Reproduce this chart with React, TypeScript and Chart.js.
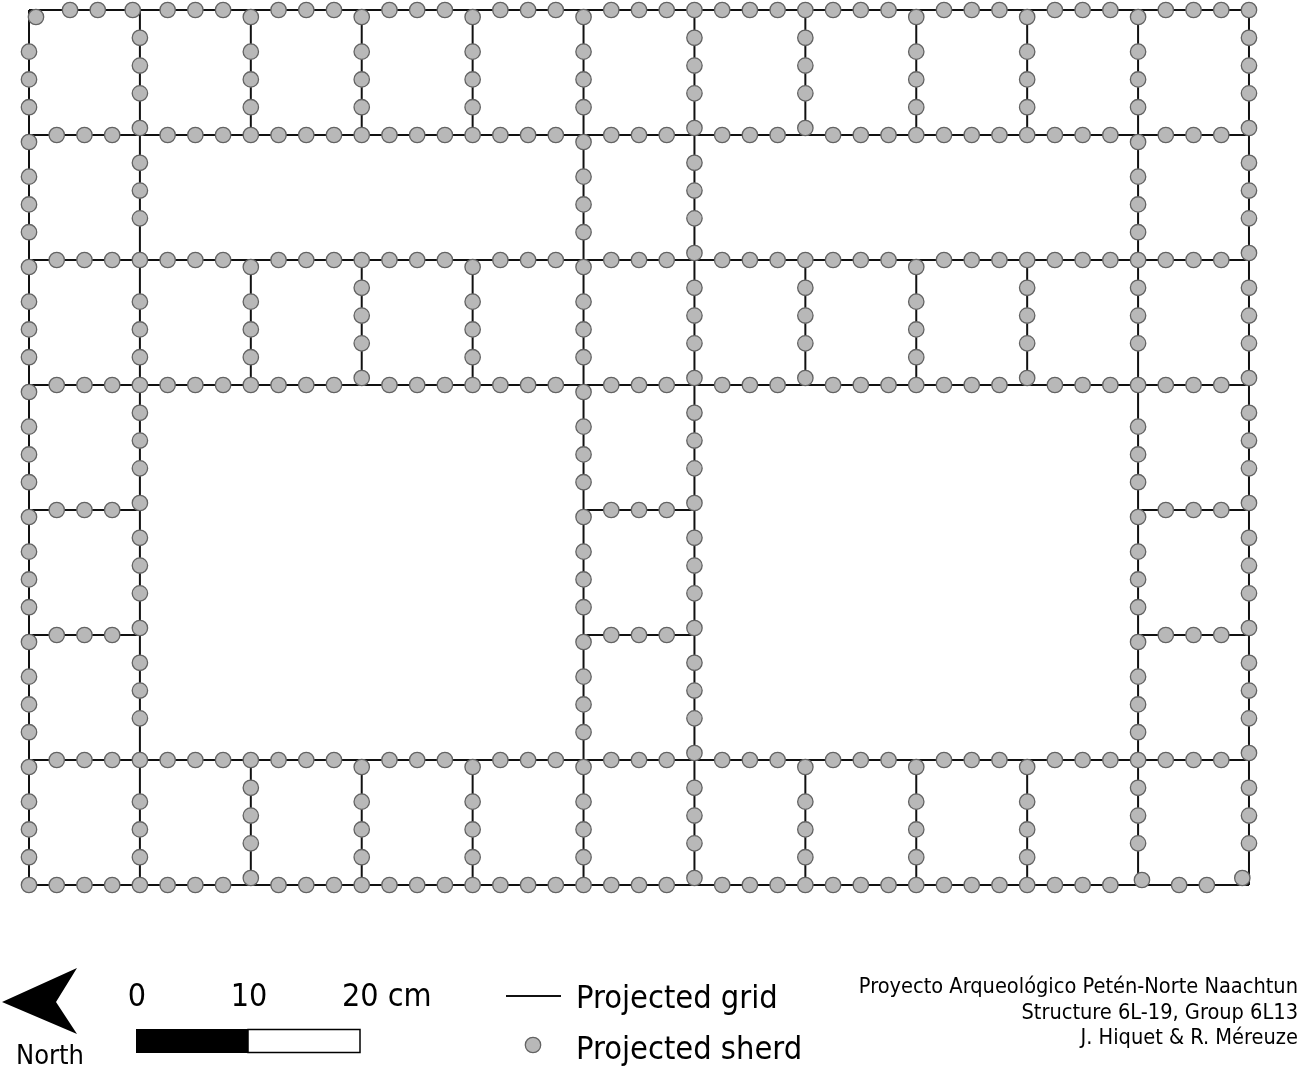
import { useEffect, useRef } from "react";
import { Chart, registerables } from "chart.js";

Chart.register(...registerables);

/* ---------------- Data (cm, origin at the lower left grid corner) ---------------- */

const gridCols = [0, 10, 20, 30, 40, 50, 60, 70, 80, 90, 100, 110];
const gridRows = [78.75, 67.5, 56.25, 45, 33.75, 22.5, 11.25, 0];

// rows / columns that run the whole way across
const fullRows = [78.75, 67.5, 56.25, 45, 11.25, 0];
const fullCols = [0, 10, 50, 60, 100, 110];

// the two short rows only cross the side rooms
const shortRows = [33.75, 22.5];
const shortRowSpans = [[0, 10], [50, 60], [100, 110]];

// the other columns only exist in the three bands of small squares
const shortCols = [20, 30, 40, 70, 80, 90];
const shortColSpans = [[67.5, 78.75], [45, 56.25], [0, 11.25]];

// sherds sitting on the horizontal lines (x values)
const sherdsRow0 = [3.7, 6.2, 9.35, 12.5, 15, 17.5, 22.5, 25, 27.5, 32.5, 35, 37.5, 42.5, 45, 47.5, 52.5, 55, 57.5, 60, 62.5, 65, 67.5, 70, 72.5, 75, 77.5, 82.5, 85, 87.5, 92.5, 95, 97.5, 102.5, 105, 107.5, 110];
const sherdsRow1 = [2.5, 5, 7.5, 12.5, 15, 17.5, 20, 22.5, 25, 27.5, 30, 32.5, 35, 37.5, 40, 42.5, 45, 47.5, 52.5, 55, 57.5, 62.5, 65, 67.5, 72.5, 75, 77.5, 80, 82.5, 85, 87.5, 90, 92.5, 95, 97.5, 102.5, 105, 107.5];
const sherdsRow2 = [2.5, 5, 7.5, 10, 12.5, 15, 17.5, 22.5, 25, 27.5, 30, 32.5, 35, 37.5, 42.5, 45, 47.5, 52.5, 55, 57.5, 62.5, 65, 67.5, 70, 72.5, 75, 77.5, 82.5, 85, 87.5, 90, 92.5, 95, 97.5, 100, 102.5, 105, 107.5];
const sherdsRow3 = [2.5, 5, 7.5, 10, 12.5, 15, 17.5, 20, 22.5, 25, 27.5, 32.5, 35, 37.5, 40, 42.5, 45, 47.5, 52.5, 55, 57.5, 62.5, 65, 67.5, 72.5, 75, 77.5, 80, 82.5, 85, 87.5, 92.5, 95, 97.5, 100, 102.5, 105, 107.5];
const sherdsRow4 = [2.5, 5, 7.5, 52.5, 55, 57.5, 102.5, 105, 107.5];
const sherdsRow5 = [2.5, 5, 7.5, 52.5, 55, 57.5, 102.5, 105, 107.5];
const sherdsRow6 = [2.5, 5, 7.5, 10, 12.5, 15, 17.5, 20, 22.5, 25, 27.5, 32.5, 35, 37.5, 42.5, 45, 47.5, 52.5, 55, 57.5, 62.5, 65, 67.5, 72.5, 75, 77.5, 82.5, 85, 87.5, 92.5, 95, 97.5, 100, 102.5, 105, 107.5];
const sherdsRow7 = [0, 2.5, 5, 7.5, 10, 12.5, 15, 17.5, 22.5, 25, 27.5, 30, 32.5, 35, 37.5, 40, 42.5, 45, 47.5, 50, 52.5, 55, 57.5, 62.5, 65, 67.5, 70, 72.5, 75, 77.5, 80, 82.5, 85, 87.5, 90, 92.5, 95, 97.5, 103.7, 106.2];

// sherds sitting on the vertical lines (y values)
const sherdsCol0 = [75, 72.5, 70, 66.87, 63.75, 61.25, 58.75, 55.62, 52.5, 50, 47.5, 44.37, 41.25, 38.75, 36.25, 33.12, 30, 27.5, 25, 21.87, 18.75, 16.25, 13.75, 10.62, 7.5, 5, 2.5];
const sherdsCol1 = [76.25, 73.75, 71.25, 68.13, 65, 62.5, 60, 52.5, 50, 47.5, 42.5, 40, 37.5, 34.38, 31.25, 28.75, 26.25, 23.13, 20, 17.5, 15, 7.5, 5, 2.5];
const sherdsCol2 = [78.12, 75, 72.5, 70, 55.62, 52.5, 50, 47.5, 8.75, 6.25, 3.75, 0.63];
const sherdsCol3 = [78.12, 75, 72.5, 70, 53.75, 51.25, 48.75, 45.63, 10.62, 7.5, 5, 2.5];
const sherdsCol4 = [78.12, 75, 72.5, 70, 55.62, 52.5, 50, 47.5, 10.62, 7.5, 5, 2.5];
const sherdsCol5 = [78.12, 75, 72.5, 70, 66.87, 63.75, 61.25, 58.75, 55.62, 52.5, 50, 47.5, 44.37, 41.25, 38.75, 36.25, 33.12, 30, 27.5, 25, 21.87, 18.75, 16.25, 13.75, 10.62, 7.5, 5, 2.5];
const sherdsCol6 = [76.25, 73.75, 71.25, 68.13, 65, 62.5, 60, 56.88, 53.75, 51.25, 48.75, 45.63, 42.5, 40, 37.5, 34.38, 31.25, 28.75, 26.25, 23.13, 20, 17.5, 15, 11.88, 8.75, 6.25, 3.75, 0.63];
const sherdsCol7 = [76.25, 73.75, 71.25, 68.13, 53.75, 51.25, 48.75, 45.63, 10.62, 7.5, 5, 2.5];
const sherdsCol8 = [78.12, 75, 72.5, 70, 55.62, 52.5, 50, 47.5, 10.62, 7.5, 5, 2.5];
const sherdsCol9 = [78.12, 75, 72.5, 70, 53.75, 51.25, 48.75, 45.63, 10.62, 7.5, 5, 2.5];
const sherdsCol10 = [78.12, 75, 72.5, 70, 66.87, 63.75, 61.25, 58.75, 53.75, 51.25, 48.75, 41.25, 38.75, 36.25, 33.12, 30, 27.5, 25, 21.87, 18.75, 16.25, 13.75, 8.75, 6.25, 3.75];
const sherdsCol11 = [76.25, 73.75, 71.25, 68.13, 65, 62.5, 60, 56.88, 53.75, 51.25, 48.75, 45.63, 42.5, 40, 37.5, 34.38, 31.25, 28.75, 26.25, 23.13, 20, 17.5, 15, 11.88, 8.75, 6.25, 3.75];

// the three sherds that were pushed off the lines at the corners
const strayX = [0.63, 100.35, 109.4];
const strayY = [78.12, 0.45, 0.63];

const rowSherds = [sherdsRow0, sherdsRow1, sherdsRow2, sherdsRow3, sherdsRow4, sherdsRow5, sherdsRow6, sherdsRow7];
const colSherds = [sherdsCol0, sherdsCol1, sherdsCol2, sherdsCol3, sherdsCol4, sherdsCol5, sherdsCol6, sherdsCol7, sherdsCol8, sherdsCol9, sherdsCol10, sherdsCol11];

const scaleBarTicks = [0, 10, 20];
const creditLines = [
  "Proyecto Arqueológico Petén-Norte Naachtun",
  "Structure 6L-19, Group 6L13",
  "J. Hiquet & R. Méreuze",
];

/* ---------------- Helpers ---------------- */

const LINE = "#111111";
const SHERD_FILL = "#b8b8b8";
const SHERD_EDGE = "#636363";
const SHERD_RADIUS = 7.7;
const SHERD_EDGE_WIDTH = 1.3;
const FONT = "'DejaVu Sans Condensed', 'DejaVu Sans'";

const sherdPoints = [
  ...rowSherds.flatMap((xs, i) => xs.map((x) => ({ x, y: gridRows[i] }))),
  ...colSherds.flatMap((ys, i) => ys.map((y) => ({ x: gridCols[i], y }))),
  ...strayX.map((x, i) => ({ x, y: strayY[i] })),
];

const gridSegments = [
  ...fullRows.map((y) => [{ x: 0, y }, { x: 110, y }]),
  ...fullCols.map((x) => [{ x, y: 0 }, { x, y: 78.75 }]),
  ...shortRows.flatMap((y) =>
    shortRowSpans.map(([a, b]) => [{ x: a, y }, { x: b, y }])
  ),
  ...shortCols.flatMap((x) =>
    shortColSpans.map(([a, b]) => [{ x, y: a }, { x, y: b }])
  ),
];

// north arrow, scale bar, legend and credits below the map
const mapFurniture = {
  id: "mapFurniture",
  afterDraw(chart: Chart) {
    const ctx = chart.ctx;
    ctx.save();

    // north arrow
    ctx.fillStyle = "#000";
    ctx.beginPath();
    ctx.moveTo(2, 1002);
    ctx.lineTo(77, 968);
    ctx.lineTo(56, 1002);
    ctx.lineTo(77, 1034);
    ctx.closePath();
    ctx.fill();

    ctx.textBaseline = "alphabetic";
    ctx.textAlign = "left";
    ctx.font = `27px ${FONT}`;
    ctx.fillText("North", 16, 1064);

    // scale bar, 224 px for 20 cm
    const barLeft = 136;
    const barPx = (v: number) => barLeft + v * 11.2;
    ctx.fillRect(barPx(0), 1029, barPx(10) - barPx(0), 24);
    ctx.lineWidth = 1.5;
    ctx.strokeStyle = "#000";
    ctx.strokeRect(barPx(10), 1029.5, barPx(20) - barPx(10), 23);

    ctx.font = `32px ${FONT}`;
    ctx.textAlign = "center";
    ctx.fillText(String(scaleBarTicks[0]), barPx(scaleBarTicks[0]) + 1, 1006);
    ctx.fillText(String(scaleBarTicks[1]), barPx(scaleBarTicks[1]) + 1, 1006);
    ctx.textAlign = "left";
    ctx.fillText(`${scaleBarTicks[2]} cm`, 342, 1006);

    // legend
    ctx.strokeStyle = LINE;
    ctx.lineWidth = 2;
    ctx.beginPath();
    ctx.moveTo(506, 996);
    ctx.lineTo(561, 996);
    ctx.stroke();

    ctx.fillStyle = SHERD_FILL;
    ctx.strokeStyle = SHERD_EDGE;
    ctx.lineWidth = SHERD_EDGE_WIDTH;
    ctx.beginPath();
    ctx.arc(533, 1045, SHERD_RADIUS, 0, Math.PI * 2);
    ctx.fill();
    ctx.stroke();

    ctx.fillStyle = "#000";
    ctx.font = `32.3px ${FONT}`;
    ctx.fillText("Projected grid", 576, 1008);
    ctx.fillText("Projected sherd", 576, 1059);

    // credits
    ctx.font = `21.6px ${FONT}`;
    ctx.textAlign = "right";
    creditLines.forEach((line, i) => {
      ctx.fillText(line, 1298, 993 + i * 25.5);
    });

    ctx.restore();
  },
};

/* ---------------- Component ---------------- */

const App = () => {
  const canvasRef = useRef<HTMLCanvasElement | null>(null);

  useEffect(() => {
    document.body.style.margin = "0";
    if (!canvasRef.current) return;

    const chart = new Chart(canvasRef.current, {
      type: "scatter",
      data: {
        datasets: [
          {
            label: "Projected sherd",
            data: sherdPoints,
            order: 0,
            pointRadius: SHERD_RADIUS,
            pointBackgroundColor: SHERD_FILL,
            pointBorderColor: SHERD_EDGE,
            pointBorderWidth: SHERD_EDGE_WIDTH,
          },
          ...gridSegments.map((segment) => ({
            label: "Projected grid",
            data: segment,
            order: 1,
            showLine: true,
            borderColor: LINE,
            borderWidth: 2,
            pointRadius: 0,
          })),
        ],
      },
      options: {
        animation: false,
        responsive: false,
        events: [],
        layout: { padding: 0, autoPadding: false },
        plugins: {
          legend: { display: false },
          tooltip: { enabled: false },
        },
        scales: {
          x: { type: "linear", display: false, min: -2.615, max: 114.6 },
          y: { type: "linear", display: false, min: -16.47, max: 79.65 },
        },
      },
      plugins: [mapFurniture],
    });

    return () => {
      chart.destroy();
    };
  }, []);

  return (
    <div style={{ width: 1300, height: 1068, background: "#fff" }}>
      <canvas
        ref={canvasRef}
        width={1300}
        height={1068}
        style={{ display: "block" }}
      ></canvas>
    </div>
  );
};

export default App;
